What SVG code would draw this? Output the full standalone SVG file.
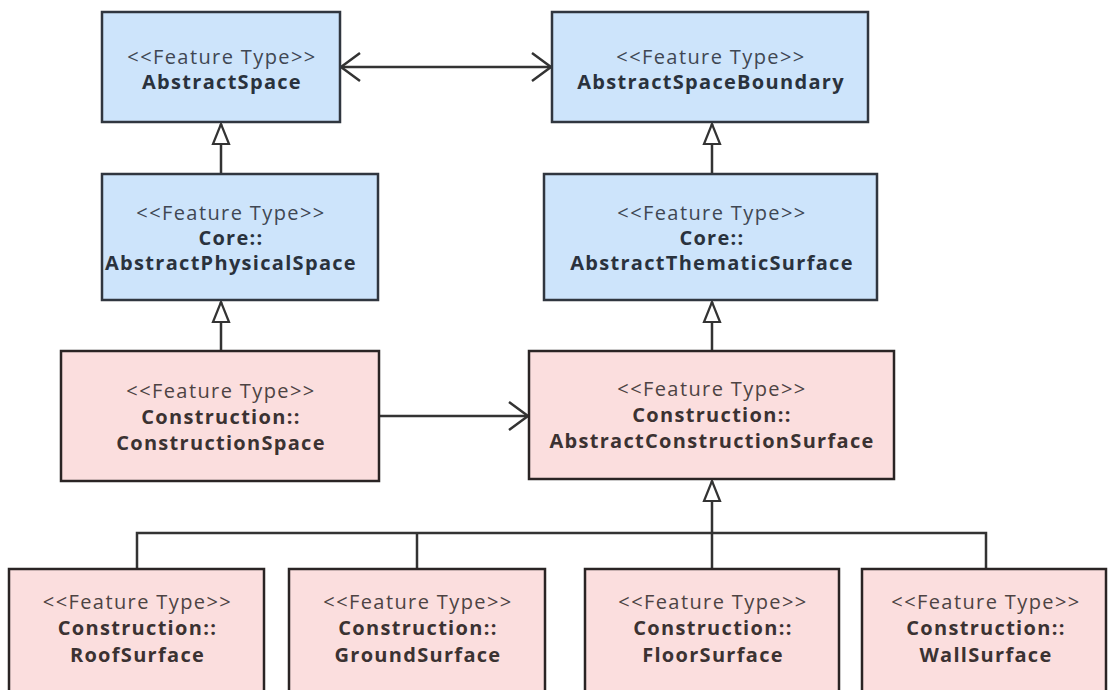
<svg xmlns="http://www.w3.org/2000/svg" width="1110" height="690" viewBox="0 0 1110 690">
  <style>
    .blue rect { fill: #cde4fb; stroke: #30363f; stroke-width: 2.5; }
    .pink rect { fill: #fbdede; stroke: #2a2424; stroke-width: 2.5; }
    text { font-family: "Open Sans", "Noto Sans", "DejaVu Sans", sans-serif; font-size: 20px; text-anchor: middle; }
    .st { font-weight: normal; letter-spacing: 1.4px; }
    .nm { font-weight: bold; letter-spacing: 1.3px; }
    .blue .st { fill: #3f4753; }
    .blue .nm { fill: #2a323d; }
    .pink .st { fill: #4d4343; }
    .pink .nm { fill: #3b3232; }
    .conn path { fill: none; stroke: #333333; stroke-width: 2.5; }
  </style>
  <defs>
    <!-- UML generalization: hollow triangle -->
    <marker id="gen" markerUnits="userSpaceOnUse" viewBox="-2 -2 24 20" markerWidth="24" markerHeight="20" refX="20" refY="8" orient="auto">
      <path d="M0,0 L20,8 L0,16 Z" fill="#ffffff" stroke="#333333" stroke-width="2.2" stroke-linejoin="miter"/>
    </marker>
    <!-- navigable association: open arrowhead -->
    <marker id="open" markerUnits="userSpaceOnUse" viewBox="-2 -2 24 32" markerWidth="24" markerHeight="32" refX="19" refY="14" orient="auto-start-reverse">
      <path d="M0,0 L19,14 L0,28" fill="none" stroke="#333333" stroke-width="2.5"/>
    </marker>
  </defs>

  <g id="connectors" class="conn">
    <path d="M341,67 L551,67" marker-start="url(#open)" marker-end="url(#open)"/>
    <path d="M221,174 L221,124" marker-end="url(#gen)"/>
    <path d="M712,174 L712,124" marker-end="url(#gen)"/>
    <path d="M221,351 L221,302" marker-end="url(#gen)"/>
    <path d="M712,351 L712,302" marker-end="url(#gen)"/>
    <path d="M380,416 L528,416" marker-end="url(#open)"/>
    <path d="M712,569 L712,481" marker-end="url(#gen)"/>
    <path d="M137,569 L137,533 L986,533 L986,569"/>
    <path d="M417,533 L417,569"/>
  </g>

  <g id="AbstractSpace" class="blue">
    <rect x="102" y="12" width="238" height="110"/>
    <text class="st" x="222" y="64">&lt;&lt;Feature Type&gt;&gt;</text>
    <text class="nm" x="222" y="89">AbstractSpace</text>
  </g>

  <g id="AbstractSpaceBoundary" class="blue">
    <rect x="552" y="12" width="316" height="110"/>
    <text class="st" x="711" y="64">&lt;&lt;Feature Type&gt;&gt;</text>
    <text class="nm" x="711" y="89">AbstractSpaceBoundary</text>
  </g>

  <g id="AbstractPhysicalSpace" class="blue">
    <rect x="102" y="174" width="276" height="126"/>
    <text class="st" x="231" y="220">&lt;&lt;Feature Type&gt;&gt;</text>
    <text class="nm" x="231" y="245">Core::</text>
    <text class="nm" x="231" y="270">AbstractPhysicalSpace</text>
  </g>

  <g id="AbstractThematicSurface" class="blue">
    <rect x="544" y="174" width="333" height="126"/>
    <text class="st" x="712" y="220">&lt;&lt;Feature Type&gt;&gt;</text>
    <text class="nm" x="712" y="245">Core::</text>
    <text class="nm" x="712" y="270">AbstractThematicSurface</text>
  </g>

  <g id="ConstructionSpace" class="pink">
    <rect x="61" y="351" width="318" height="130"/>
    <text class="st" x="221" y="398">&lt;&lt;Feature Type&gt;&gt;</text>
    <text class="nm" x="221" y="424">Construction::</text>
    <text class="nm" x="221" y="450">ConstructionSpace</text>
  </g>

  <g id="AbstractConstructionSurface" class="pink">
    <rect x="529" y="351" width="365" height="128"/>
    <text class="st" x="712" y="396">&lt;&lt;Feature Type&gt;&gt;</text>
    <text class="nm" x="712" y="422">Construction::</text>
    <text class="nm" x="712" y="448">AbstractConstructionSurface</text>
  </g>

  <g id="RoofSurface" class="pink">
    <rect x="9" y="569" width="255" height="140"/>
    <text class="st" x="137.5" y="609">&lt;&lt;Feature Type&gt;&gt;</text>
    <text class="nm" x="137.5" y="635">Construction::</text>
    <text class="nm" x="137.5" y="662">RoofSurface</text>
  </g>

  <g id="GroundSurface" class="pink">
    <rect x="289" y="569" width="256" height="140"/>
    <text class="st" x="418" y="609">&lt;&lt;Feature Type&gt;&gt;</text>
    <text class="nm" x="418" y="635">Construction::</text>
    <text class="nm" x="418" y="662">GroundSurface</text>
  </g>

  <g id="FloorSurface" class="pink">
    <rect x="585" y="569" width="254" height="140"/>
    <text class="st" x="713" y="609">&lt;&lt;Feature Type&gt;&gt;</text>
    <text class="nm" x="713" y="635">Construction::</text>
    <text class="nm" x="713" y="662">FloorSurface</text>
  </g>

  <g id="WallSurface" class="pink">
    <rect x="862" y="569" width="244" height="140"/>
    <text class="st" x="986" y="609">&lt;&lt;Feature Type&gt;&gt;</text>
    <text class="nm" x="986" y="635">Construction::</text>
    <text class="nm" x="986" y="662">WallSurface</text>
  </g>
</svg>
